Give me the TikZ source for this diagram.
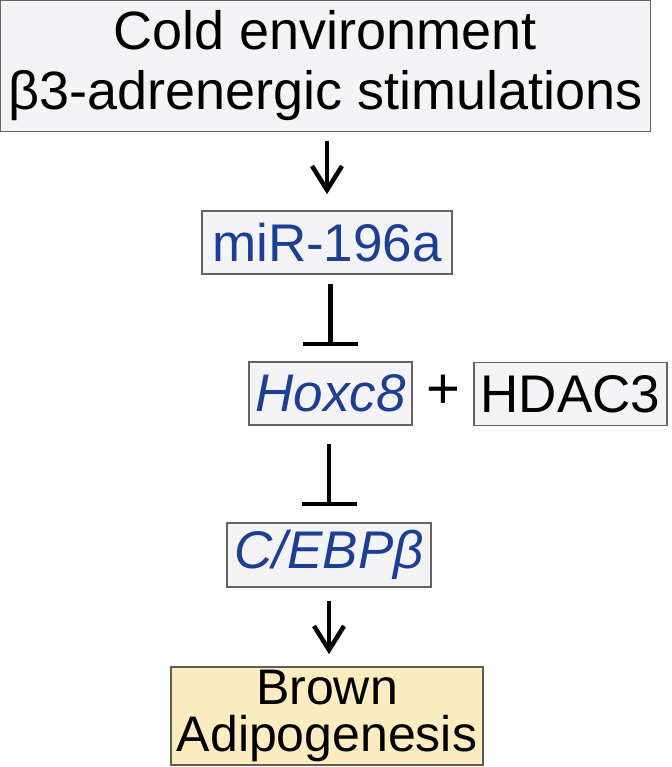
\documentclass[tikz,border=0pt]{standalone}
\usepackage{fontspec}
\setmainfont{Liberation Sans}
\usetikzlibrary{arrows.meta}
\definecolor{geneblue}{RGB}{28,62,148}
\definecolor{boxgray}{RGB}{244,244,246}
\definecolor{edgegray}{RGB}{100,100,100}
\definecolor{brownfill}{RGB}{251,237,192}
\definecolor{brownedge}{RGB}{95,95,80}
\begin{document}
\begin{tikzpicture}
      [x=1pt,y=-1pt,
      box/.style={draw=edgegray,fill=boxgray,line width=1.6pt,inner sep=0pt,
        align=center,font=\fontsize{53}{58}\selectfont},
      gene/.style={box,text=geneblue},
      act/.style={line width=4.5pt,-{Straight Barb[length=24pt,width=30pt]}},
      inh/.style={line width=4.5pt,-{Bar[width=55pt]}}]
      \useasboundingbox (0,0) rectangle (671,767);
      \node[box,minimum width=650pt,minimum height=131pt,
        font=\fontsize{54}{60}\selectfont] (stim) at (325.5,66)
        {Cold environment\\β3-adrenergic stimulations};
      \node[gene,minimum width=250pt,minimum height=63pt] (mir) at (327,242.5) {miR-196a};
      \node[gene,minimum width=163pt,minimum height=63pt] (hox) at (330.5,393.5) {\itshape Hoxc8};
      \node[box,minimum width=193pt,minimum height=63pt] (hdac) at (570.5,394) {HDAC3};
      \node[font=\fontsize{58}{60}\selectfont,inner sep=0pt] (plus) at (443,392) {+};
      \node[gene,minimum width=204pt,minimum height=64pt] (cebp) at (329,555) {\itshape C/EBPβ};
      \node[box,fill=brownfill,draw=brownedge,minimum width=312pt,minimum height=98pt,
        font=\fontsize{50}{47}\selectfont] (brown) at (327,716) {Brown\\Adipogenesis};
      % stimulation and inhibition
      \draw[act,shorten <=9pt,shorten >=16pt] (mir.north |- stim.south) -- (mir.north);
      \draw[inh,shorten <=9pt,shorten >=15pt] (hox.north |- mir.south) -- (hox.north);
      \draw[inh,shorten <=18pt,shorten >=16pt] (cebp.north |- hox.south) -- (cebp.north);
      \draw[act,shorten <=13pt,shorten >=12pt] (cebp.south) -- (brown.north -| cebp.south);
\end{tikzpicture}
\end{document}
